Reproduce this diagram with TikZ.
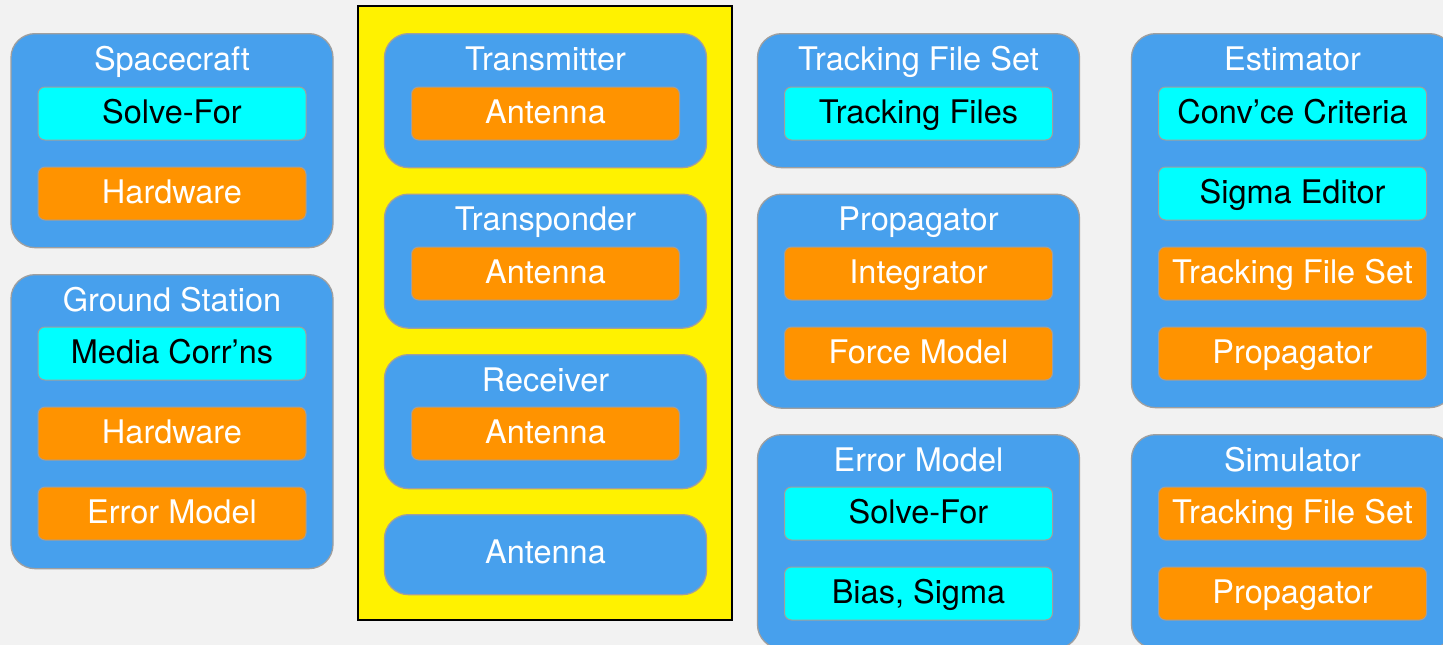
\documentclass[tikz,border=0pt]{standalone}
\usepackage{fontspec}
\setmainfont{TeX Gyre Heros}
\usepackage{xcolor}

\definecolor{boxblue}{RGB}{71,160,237}
\definecolor{boxorange}{RGB}{255,147,0}
\definecolor{boxcyan}{RGB}{0,255,255}
\definecolor{pagegray}{RGB}{242,242,242}

\tikzset{
  grp/.style={draw=gray!75, line width=1.3pt, fill=boxblue, rounded corners=24pt,
    minimum width=322pt, anchor=north, inner sep=0pt},
  ttl/.style={text=white, inner sep=0pt, text height=23pt, text depth=4pt},
  item/.style={draw=gray!75, line width=1pt, rounded corners=7pt,
    minimum width=268pt, minimum height=53pt, inner sep=0pt,
    text height=23pt, text depth=4pt},
  cbox/.style={item, fill=boxcyan, text=black},
  obox/.style={item, fill=boxorange, text=white},
}

\begin{document}
\begin{tikzpicture}[x=1pt,y=-1pt, every node/.style={font=\fontsize{32.5}{38}\selectfont}]
  \useasboundingbox (0,0) rectangle (1443,645);
  \clip (0,0) rectangle (1443,645);
  \fill[pagegray] (0,0) rectangle (1443,645);

  % left column
  \node[grp, minimum height=214] (craft) at (172,33) {};
  \node[ttl] (craftT) at (172,61) {Spacecraft};
  \node[cbox] (craftSolve) at (172,113.5) {Solve-For};
  \node[obox] (craftHw) at (172,193.5) {Hardware};

  \node[grp, minimum height=294] (gs) at (172,274) {};
  \node[ttl] (gsT) at (172,301.5) {Ground Station};
  \node[cbox] (gsMedia) at (172,353.5) {Media Corr’ns};
  \node[obox] (gsHw) at (172,433.5) {Hardware};
  \node[obox] (gsErr) at (172,513.5) {Error Model};

  % hardware column
  \draw[black, line width=2pt, fill=yellow] (358,6) rectangle (732,620);

  \node[grp, minimum height=134] (tx) at (545.5,33) {};
  \node[ttl] (txT) at (545.5,61) {Transmitter};
  \node[obox] (txAnt) at (545.5,113.5) {Antenna};

  \node[grp, minimum height=134] (xpdr) at (545.5,193.5) {};
  \node[ttl] (xpdrT) at (545.5,221) {Transponder};
  \node[obox] (xpdrAnt) at (545.5,273.5) {Antenna};

  \node[grp, minimum height=134] (rx) at (545.5,354) {};
  \node[ttl] (rxT) at (545.5,381.5) {Receiver};
  \node[obox] (rxAnt) at (545.5,433.5) {Antenna};

  \node[grp, minimum height=80] (ant) at (545.5,514) {};
  \node[ttl] (antT) at (545.5,554) {Antenna};

  % third column
  \node[grp, minimum height=134] (tfs) at (918.5,33) {};
  \node[ttl] (tfsT) at (918.5,61) {Tracking File Set};
  \node[cbox] (tfsFiles) at (918.5,113.5) {Tracking Files};

  \node[grp, minimum height=214] (prop) at (918.5,193.5) {};
  \node[ttl] (propT) at (918.5,221) {Propagator};
  \node[obox] (propInt) at (918.5,273.5) {Integrator};
  \node[obox] (propForce) at (918.5,353.5) {Force Model};

  \node[grp, minimum height=214] (err) at (918.5,434) {};
  \node[ttl] (errT) at (918.5,461.5) {Error Model};
  \node[cbox] (errSolve) at (918.5,513.5) {Solve-For};
  \node[cbox] (errBias) at (918.5,593.5) {Bias, Sigma};

  % right column
  \node[grp, minimum height=374] (est) at (1292.5,33) {};
  \node[ttl] (estT) at (1292.5,61) {Estimator};
  \node[cbox] (estConv) at (1292.5,113.5) {Conv’ce Criteria};
  \node[cbox] (estSigma) at (1292.5,193.5) {Sigma Editor};
  \node[obox] (estTfs) at (1292.5,273.5) {Tracking File Set};
  \node[obox] (estProp) at (1292.5,353.5) {Propagator};

  \node[grp, minimum height=214] (sim) at (1292.5,434) {};
  \node[ttl] (simT) at (1292.5,461.5) {Simulator};
  \node[obox] (simTfs) at (1292.5,513.5) {Tracking File Set};
  \node[obox] (simProp) at (1292.5,593.5) {Propagator};
\end{tikzpicture}
\end{document}
